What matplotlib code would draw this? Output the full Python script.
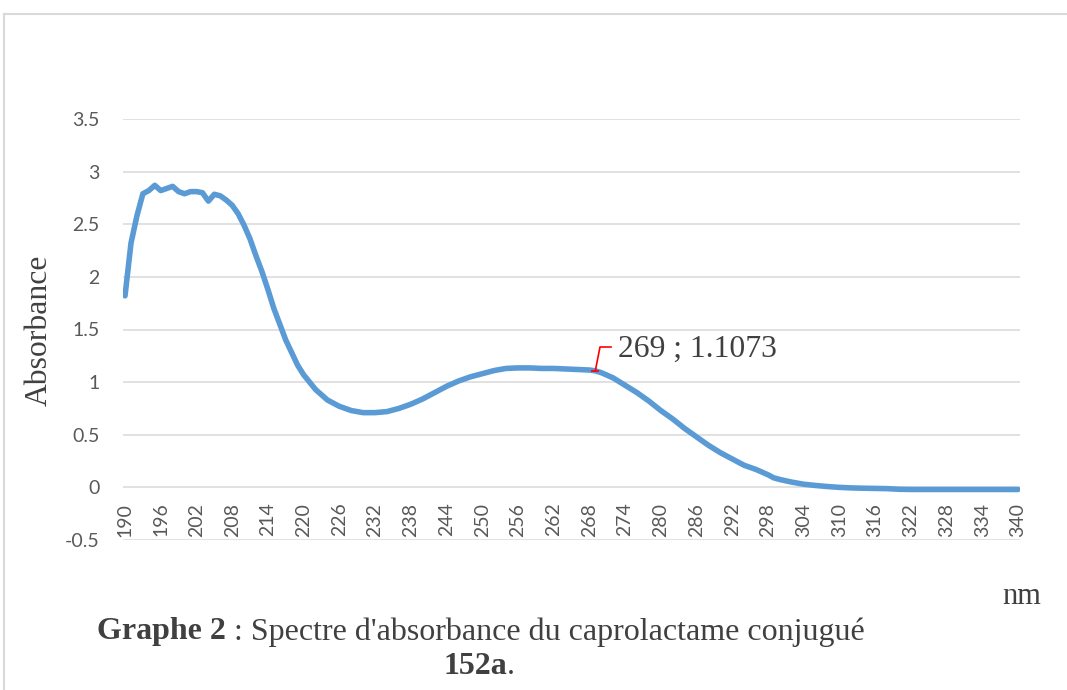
import matplotlib
matplotlib.use("Agg")
import matplotlib.pyplot as plt
from matplotlib.lines import Line2D

# UV spectrum of the conjugated caprolactame (absorbance vs wavelength)
wavelength = [190, 191, 192, 193, 194, 195, 196, 197, 198, 199, 200, 201, 202, 203, 204,
              205, 206, 207, 208, 209, 210, 211, 212, 213, 214, 215, 216, 217, 218, 219,
              220, 222, 224, 226, 228, 230, 232, 234, 236, 238, 240, 242, 244, 246, 248,
              250, 252, 254, 256, 258, 260, 262, 264, 266, 268, 269, 270, 272, 274, 276,
              278, 280, 282, 284, 286, 288, 290, 292, 294, 296, 298, 299, 300, 302, 304,
              306, 308, 310, 312, 314, 316, 318, 320, 322, 326, 330, 334, 340]
absorbance = [1.82, 2.32, 2.58, 2.79, 2.82, 2.87, 2.82, 2.84, 2.86, 2.81, 2.79, 2.81, 2.81, 2.80, 2.72,
              2.785, 2.77, 2.73, 2.68, 2.60, 2.49, 2.36, 2.20, 2.05, 1.88, 1.70, 1.55, 1.40, 1.28, 1.16,
              1.07, 0.93, 0.83, 0.77, 0.73, 0.71, 0.71, 0.72, 0.75, 0.79, 0.84, 0.90, 0.96, 1.01, 1.05,
              1.08, 1.11, 1.13, 1.135, 1.135, 1.13, 1.13, 1.125, 1.12, 1.115, 1.1073, 1.09, 1.04, 0.97, 0.90,
              0.82, 0.73, 0.65, 0.56, 0.48, 0.40, 0.33, 0.27, 0.21, 0.17, 0.12, 0.09, 0.075, 0.05, 0.03,
              0.018, 0.008, 0.0, -0.005, -0.008, -0.01, -0.012, -0.018, -0.02, -0.02, -0.02, -0.02, -0.02]

x_ticks = list(range(190, 341, 6))
y_ticks = [-0.5, 0, 0.5, 1, 1.5, 2, 2.5, 3, 3.5]
y_labels = ['-0.5', '0', '0.5', '1', '1.5', '2', '2.5', '3', '3.5']

peak_nm = 269
peak_abs = 1.1073

plt.rcParams['font.family'] = ['Lato', 'DejaVu Sans']

W, H = 1067, 690
fig = plt.figure(figsize=(W / 100, H / 100), dpi=100)
ax = fig.add_axes([123 / W, 1 - 540 / H, (1020 - 123) / W, (540 - 119) / H])

grid_col = '#d9d9d9'
tick_col = '#595959'
text_col = '#404040'
serif = 'Liberation Serif'

# category labels hang off the zero line
ax.spines['bottom'].set_position(('data', 0))
for s in ax.spines.values():
    s.set_visible(False)

ax.plot(wavelength, absorbance, color='#5b9bd5', lw=4.0, solid_capstyle='round',
        solid_joinstyle='round', zorder=3)

ax.set_xlim(189.66, 340.34)
ax.set_ylim(-0.5, 3.5)
ax.set_yticks(y_ticks)
ax.set_yticklabels(y_labels)
ax.set_xticks(x_ticks)
ax.set_xticklabels([str(t) for t in x_ticks])

for v in y_ticks:
    ax.axhline(v, color=grid_col, lw=1.1, zorder=1)

ax.tick_params(axis='y', length=0, pad=17, labelsize=14, labelcolor=tick_col)
ax.tick_params(axis='x', length=0, pad=11, labelsize=14, labelcolor=tick_col,
               labelrotation=90)

# labelled point with a red leader line
to_data = ax.transData.inverted()
elbow = to_data.transform((600, H - 347))
end = to_data.transform((611, H - 347))
ax.plot([peak_nm, elbow[0], end[0]], [peak_abs, elbow[1], end[1]], color='red', lw=1.2, zorder=4)
ax.plot([peak_nm], [peak_abs], marker='_', color='red', ms=6, mew=1.2, zorder=4)
ax.text(to_data.transform((618, 0))[0], to_data.transform((0, H - 349))[1],
        f'{peak_nm} ; {peak_abs}', family=serif, fontsize=22.8,
        color=text_col, va='center', ha='left', zorder=5)

fig.text(39 / W, 1 - 330 / H, 'Absorbance', rotation=90, family=serif,
         fontsize=22.8, color=text_col, ha='center', va='center')
fig.text(1022 / W, 1 - 597 / H, 'nm', family=serif, fontsize=22,
         color=text_col, ha='center', va='center')

# caption: bold and regular parts placed one after another
fig.canvas.draw()
renderer = fig.canvas.get_renderer()
t1 = fig.text(97 / W, 1 - 632 / H, 'Graphe 2', family=serif, fontsize=23,
              weight='bold', color=text_col, va='center', ha='left')
bb = t1.get_window_extent(renderer)
fig.text(bb.x1 / W, 1 - 632 / H, ' : Spectre d\'absorbance du caprolactame conjugué',
         family=serif, fontsize=23, color=text_col, va='center', ha='left')
t3 = fig.text(443 / W, 1 - 667 / H, '152a', family=serif, fontsize=23,
              weight='bold', color=text_col, va='center', ha='left')
bb3 = t3.get_window_extent(renderer)
fig.text(bb3.x1 / W, 1 - 667 / H, '.', family=serif, fontsize=23,
         color=text_col, va='center', ha='left')

# chart frame
fig.add_artist(Line2D([4 / W, 4 / W], [0, 1 - 14 / H], color=grid_col, lw=1.5))
fig.add_artist(Line2D([4 / W, 1], [1 - 14 / H, 1 - 14 / H], color=grid_col, lw=1.5))

fig.savefig('out.png', dpi=100)
